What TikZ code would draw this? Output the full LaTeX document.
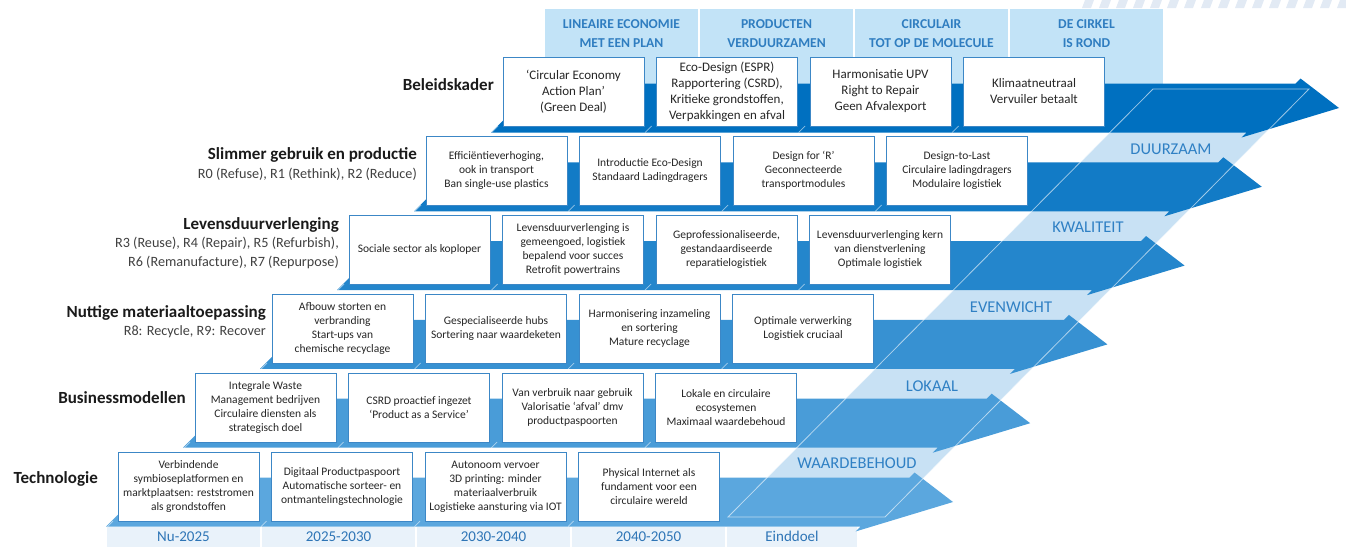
\documentclass[tikz,border=0pt]{standalone}
\usepackage{fontspec}
\setmainfont{Carlito}
\definecolor{arr0}{RGB}{0,112,192}
\definecolor{arr1}{RGB}{18,123,198}
\definecolor{arr2}{RGB}{36,134,204}
\definecolor{arr3}{RGB}{55,145,210}
\definecolor{arr4}{RGB}{73,156,216}
\definecolor{arr5}{RGB}{91,167,222}
\definecolor{bandfill}{RGB}{200,225,244}
\definecolor{hdrfill}{RGB}{194,227,247}
\definecolor{hdrtext}{RGB}{47,125,192}
\definecolor{tlfill}{RGB}{233,242,250}
\definecolor{tltext}{RGB}{46,117,182}
\definecolor{boxline}{RGB}{60,135,198}
\definecolor{boxtext}{RGB}{38,38,38}
\definecolor{labtext}{RGB}{26,26,26}
\definecolor{subtext}{RGB}{64,64,64}
\definecolor{bandtext}{RGB}{47,128,196}
\definecolor{stripe}{RGB}{226,234,244}
\begin{document}
\begin{tikzpicture}[x=1pt,y=-1pt,
  box/.style={draw=boxline, line width=0.9pt, fill=white, minimum width=141pt, minimum height=69pt, inner sep=1pt, align=center, text=boxtext, font=\fontsize{11.5}{14}\selectfont},
  topbox/.style={box, font=\fontsize{13}{16}\selectfont},
  hcol/.style={fill=hdrfill, minimum width=153pt, minimum height=75pt, inner sep=0pt, anchor=north},
  htext/.style={align=center, text=hdrtext, font=\bfseries\fontsize{13.6}{18.5}\selectfont},
  tlcell/.style={fill=tlfill, minimum height=20pt, inner sep=0pt, text=tltext, font=\fontsize{15}{17}\selectfont},
  rowlab/.style={anchor=east, align=right, inner sep=0pt, text=subtext, font=\fontsize{14.2}{18.5}\selectfont},
  bandlab/.style={text=bandtext, font=\fontsize{16.5}{19}\selectfont, inner sep=0pt},
  sepline/.style={white, opacity=0.55, line width=0.7pt},
  bandline/.style={white, opacity=0.6, line width=0.8pt}
]
\useasboundingbox (0,0) rectangle (1346,546);
% top stripes
\foreach \x in {1082,1099,...,1340}{
  \fill[stripe] (\x+3,0) -- (\x+12,0) -- (\x+9,8) -- (\x,8) -- cycle;
}
% header columns
\node[hcol] (hcol1) at (621.5,9) {};
\node[hcol] (hcol2) at (776.5,9) {};
\node[hcol] (hcol3) at (931.5,9) {};
\node[hcol] (hcol4) at (1086.5,9) {};
\node[htext] (hdr1) at (621.5,33.5) {LINEAIRE ECONOMIE\\MET EEN PLAN};
\node[htext] (hdr2) at (776.5,33.5) {PRODUCTEN\\VERDUURZAMEN};
\node[htext] (hdr3) at (931.5,33.5) {CIRCULAIR\\TOT OP DE MOLECULE};
\node[htext] (hdr4) at (1086.5,33.5) {DE CIRKEL\\IS ROND};
% timeline
\node[tlcell, minimum width=153pt] (tl1) at (183.5,536.5) {Nu-2025};
\node[tlcell, minimum width=153pt] (tl2) at (338.5,536.5) {2025-2030};
\node[tlcell, minimum width=153pt] (tl3) at (493.5,536.5) {2030-2040};
\node[tlcell, minimum width=153pt] (tl4) at (648.5,536.5) {2040-2050};
\node[tlcell, minimum width=130pt] (tl5) at (792,536.5) {Einddoel};
% diagonal band
\fill[bandfill] (1153,89) -- (1309,89) -- (885,517) -- (728,517) -- cycle;
% arrows
\foreach \i in {0,...,5}{
  \pgfmathsetmacro\cy{108+78.8*\i}
  \pgfmathsetmacro\ul{515.5-77*\i}
  \pgfmathsetmacro\hb{1271-77.2*\i}
  \fill[fill=arr\i] (\ul+24.5,\cy-24.5) -- (\hb+24.5,\cy-24.5) -- (\hb+29.5,\cy-29.5) -- (\hb+68,\cy) -- (\hb-29.5,\cy+29.5) -- (\hb-24.5,\cy+24.5) -- (\ul-24.5,\cy+24.5) -- cycle;
}
% column separators on arrows
\foreach \i in {0,...,5}{
  \foreach \j in {0,...,3}{
    \pgfmathsetmacro\lx{503-77*\i+153.5*\j-5}
    \pgfmathsetmacro\ty{126+79*\i}
    \pgfmathsetmacro\by{132.5+78.8*\i}
    \draw[sepline] (\lx,\ty) -- (\lx-\by+\ty,\by);
  }
}
\draw[bandline] (1153,89) -- (1309,89) -- (885,517) -- (728,517) -- cycle;
% band labels
\node[bandlab] (q1) at (1171,149) {DUURZAAM};
\node[bandlab] (q2) at (1088,227.5) {KWALITEIT};
\node[bandlab] (q3) at (1011,307) {EVENWICHT};
\node[bandlab] (q4) at (932,386.5) {LOKAAL};
\node[bandlab] (q5) at (857,463) {WAARDEBEHOUD};
% row labels
\node[rowlab] (r0) at (494,85) {\textcolor{labtext}{\bfseries\fontsize{17}{18.5}\selectfont Beleidskader}};
\node[rowlab] (r1) at (417,164) {\textcolor{labtext}{\bfseries\fontsize{17}{18.5}\selectfont Slimmer gebruik en productie}\\R0 (Refuse), R1 (Rethink), R2 (Reduce)};
\node[rowlab] (r2) at (339,243) {\textcolor{labtext}{\bfseries\fontsize{17}{18.5}\selectfont Levensduurverlenging}\\R3 (Reuse), R4 (Repair), R5 (Refurbish),\\R6 (Remanufacture), R7 (Repurpose)};
\node[rowlab] (r3) at (266,321.5) {\textcolor{labtext}{\bfseries\fontsize{17}{18.5}\selectfont Nuttige materiaaltoepassing}\\R8: Recycle, R9: Recover};
\node[rowlab] (r4) at (186,398) {\textcolor{labtext}{\bfseries\fontsize{17}{18.5}\selectfont Businessmodellen}};
\node[rowlab] (r5) at (98,479) {\textcolor{labtext}{\bfseries\fontsize{17}{18.5}\selectfont Technologie}};
% row 0
\node[topbox] (b01) at (573.5,91.5) {‘Circular Economy\\Action Plan’\\(Green Deal)};
\node[topbox] (b02) at (727,91.5) {Eco-Design (ESPR)\\Rapportering (CSRD),\\Kritieke grondstoffen,\\Verpakkingen en afval};
\node[topbox] (b03) at (880.5,91.5) {Harmonisatie UPV\\Right to Repair\\Geen Afvalexport};
\node[topbox] (b04) at (1034,91.5) {Klimaatneutraal\\Vervuiler betaalt};
% row 1
\node[box] (b11) at (496.5,170.5) {Efficiëntieverhoging,\\ook in transport\\Ban single-use plastics};
\node[box] (b12) at (650,170.5) {Introductie Eco-Design\\Standaard Ladingdragers};
\node[box] (b13) at (803.5,170.5) {Design for ‘R’\\Geconnecteerde\\transportmodules};
\node[box] (b14) at (957,170.5) {Design-to-Last\\Circulaire ladingdragers\\Modulaire logistiek};
% row 2
\node[box] (b21) at (419.5,249.5) {Sociale sector als koploper};
\node[box] (b22) at (573,249.5) {Levensduurverlenging is\\gemeengoed, logistiek\\bepalend voor succes\\Retrofit powertrains};
\node[box] (b23) at (726.5,249.5) {Geprofessionaliseerde,\\gestandaardiseerde\\reparatielogistiek};
\node[box] (b24) at (880,249.5) {Levensduurverlenging kern\\van dienstverlening\\Optimale logistiek};
% row 3
\node[box] (b31) at (342.5,328.5) {Afbouw storten en\\verbranding\\Start-ups van\\chemische recyclage};
\node[box] (b32) at (496,328.5) {Gespecialiseerde hubs\\Sortering naar waardeketen};
\node[box] (b33) at (649.5,328.5) {Harmonisering inzameling\\en sortering\\Mature recyclage};
\node[box] (b34) at (803,328.5) {Optimale verwerking\\Logistiek cruciaal};
% row 4
\node[box] (b41) at (265.5,407.5) {Integrale Waste\\Management bedrijven\\Circulaire diensten als\\strategisch doel};
\node[box] (b42) at (419,407.5) {CSRD proactief ingezet\\‘Product as a Service’};
\node[box] (b43) at (572.5,407.5) {Van verbruik naar gebruik\\Valorisatie ‘afval’ dmv\\productpaspoorten};
\node[box] (b44) at (726,407.5) {Lokale en circulaire\\ecosystemen\\Maximaal waardebehoud};
% row 5
\node[box] (b51) at (188.5,486.5) {Verbindende\\symbioseplatformen en\\marktplaatsen: reststromen\\als grondstoffen};
\node[box] (b52) at (342,486.5) {Digitaal Productpaspoort\\Automatische sorteer- en\\ontmantelingstechnologie};
\node[box] (b53) at (495.5,486.5) {Autonoom vervoer\\3D printing: minder\\materiaalverbruik\\Logistieke aansturing via IOT};
\node[box] (b54) at (649,486.5) {Physical Internet als\\fundament voor een\\circulaire wereld};
\end{tikzpicture}
\end{document}
